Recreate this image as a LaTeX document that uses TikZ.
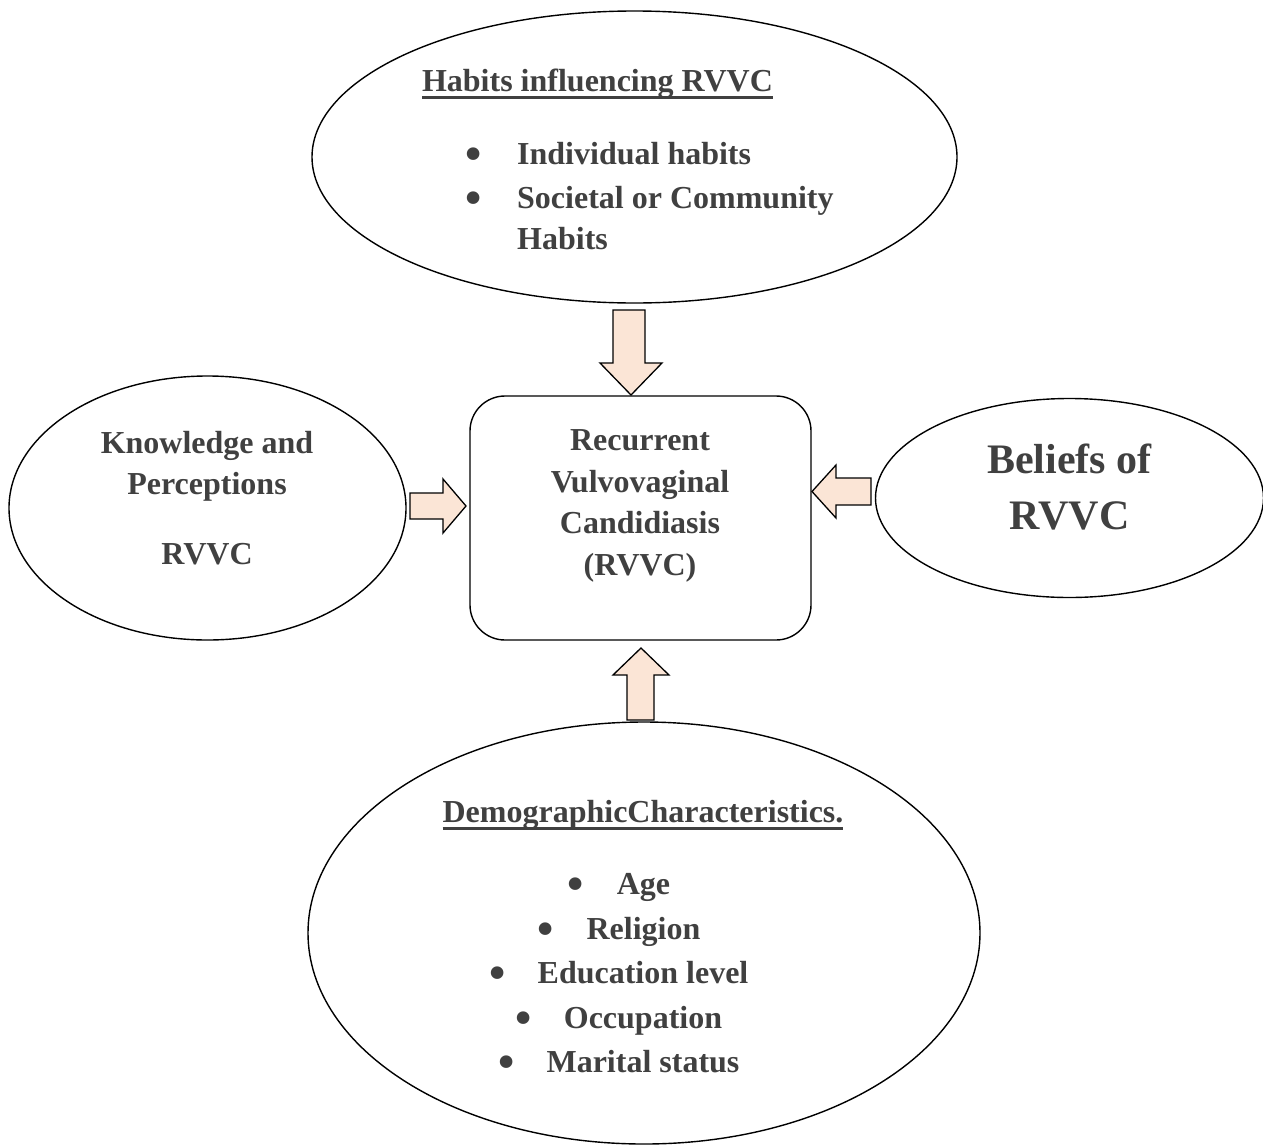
\documentclass[tikz,border=0pt]{standalone}
\usepackage{fontspec}
\setmainfont{Liberation Serif}
\usetikzlibrary{shapes.geometric}
\definecolor{txt}{RGB}{64,64,64}
\definecolor{peach}{RGB}{251,229,214}
\newcommand\myul[1]{\setbox0=\hbox{#1}\rlap{\color{txt}\rule[-8pt]{\wd0}{3pt}}\box0}
\newcommand\bul[1]{\makebox[#1][l]{\hspace{-2pt}\raisebox{-5pt}{\scalebox{1.45}{\textbullet}}}}
\begin{document}
\begin{tikzpicture}[x=1pt,y=-1pt,
  oval/.style={draw=black,line width=1.4pt,ellipse,inner sep=0pt},
  lbl/.style={anchor=base,inner sep=0pt,text=txt,font=\fontsize{32}{38}\selectfont\bfseries},
  big/.style={lbl,font=\fontsize{42}{50}\selectfont\bfseries},
  blockarrow/.style={draw=black,line width=1.3pt,fill=peach,line join=miter}
]
\useasboundingbox (0,0) rectangle (1263,1146);

% shapes
\node[oval,minimum width=645pt,minimum height=292pt] (top) at (634.5,157) {};
\node[oval,minimum width=397pt,minimum height=264pt] (left) at (207.5,508) {};
\node[oval,minimum width=388pt,minimum height=199pt] (right) at (1069.5,498) {};
\node[oval,minimum width=672pt,minimum height=422pt] (bottom) at (644,933) {};
\node[draw=black,line width=1.4pt,rounded corners=35pt,minimum width=341pt,minimum height=244pt,inner sep=0pt] (rvvc) at (640.5,518) {};

% block arrows
\draw[blockarrow] (613,310) -- (645,310) -- (645,363) -- (662,363) -- (631,395) -- (600,363) -- (613,363) -- cycle;
\draw[blockarrow] (410,493) -- (443,493) -- (443,479) -- (466,506) -- (443,533) -- (443,519) -- (410,519) -- cycle;
\draw[blockarrow] (871,478) -- (836,478) -- (836,465) -- (812,491.5) -- (836,518) -- (836,505) -- (871,505) -- cycle;
\draw[blockarrow] (627,720) -- (627,675) -- (613,675) -- (641,648) -- (669,675) -- (654,675) -- (654,720) -- cycle;

% top ellipse text
\node[lbl] (h1) at (597.5,91) {\myul{Habits influencing RVVC}};
\node[lbl,anchor=base west] (h2) at (467,164) {\bul{50pt}Individual habits};
\node[lbl,anchor=base west] (h3) at (467,208) {\bul{50pt}Societal or Community};
\node[lbl,anchor=base west] (h4) at (517,249) {Habits};

% left ellipse text
\node[lbl] (k1) at (207,453) {Knowledge and};
\node[lbl] (k2) at (207,494) {Perceptions};
\node[lbl] (k3) at (207,564) {RVVC};

% centre text
\node[lbl] (c1) at (640,450) {Recurrent};
\node[lbl] (c2) at (640,492) {Vulvovaginal};
\node[lbl] (c3) at (640,533) {Candidiasis};
\node[lbl] (c4) at (640,575) {(RVVC)};

% right ellipse text
\node[big] (b1) at (1069.5,473) {Beliefs of};
\node[big] (b2) at (1069.5,529) {RVVC};

% bottom ellipse text
\node[lbl] (d0) at (643,822) {\myul{DemographicCharacteristics.}};
\node[lbl] (d1) at (620,894) {\bul{47pt}Age};
\node[lbl] (d2) at (620,939) {\bul{47pt}Religion};
\node[lbl] (d3) at (620,983) {\bul{46pt}Education level};
\node[lbl] (d4) at (620,1028) {\bul{46pt}Occupation};
\node[lbl] (d5) at (620,1072) {\bul{46pt}Marital status};
\end{tikzpicture}
\end{document}
